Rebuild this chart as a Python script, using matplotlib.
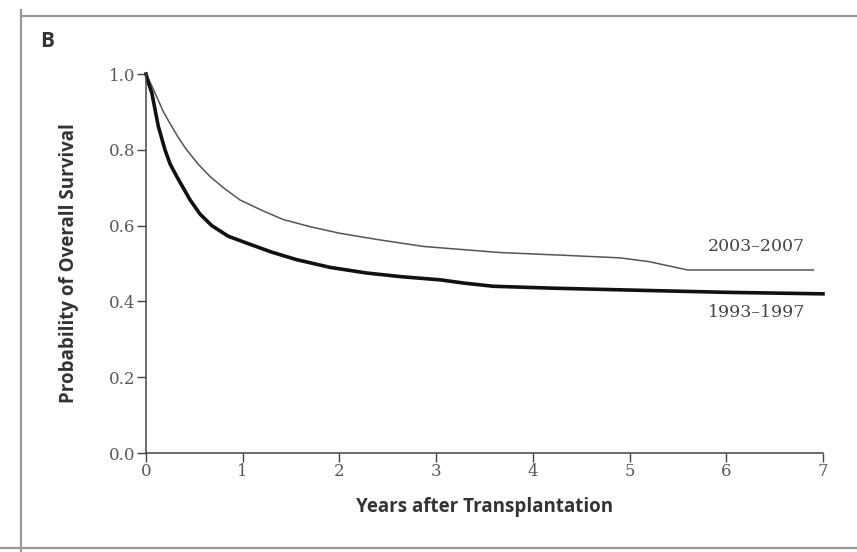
import matplotlib.pyplot as plt
from matplotlib.lines import Line2D

# years after transplantation vs survival
t_2003 = [0, 0.03, 0.093, 0.18, 0.265, 0.34, 0.42, 0.54, 0.66, 0.8, 0.97, 1.2, 1.42,
          1.7, 2.0, 2.4, 2.87, 3.66, 4.3, 4.9, 5.2, 5.6, 6.9]
s_2003 = [1.0, 0.985, 0.95, 0.90, 0.862, 0.83, 0.8, 0.762, 0.73, 0.70, 0.668, 0.64,
          0.616, 0.597, 0.58, 0.563, 0.545, 0.529, 0.522, 0.515, 0.505, 0.483, 0.483]

t_1993 = [0, 0.02, 0.06, 0.127, 0.196, 0.25, 0.317, 0.455, 0.56, 0.68, 0.85, 1.04,
          1.3, 1.56, 1.9, 2.28, 2.65, 3.04, 3.3, 3.59, 4.2, 5.0, 5.5, 6.0, 6.5, 7.0]
s_1993 = [1.0, 0.98, 0.95, 0.862, 0.8, 0.762, 0.73, 0.668, 0.63, 0.6, 0.572, 0.554,
          0.53, 0.51, 0.49, 0.475, 0.465, 0.457, 0.448, 0.44, 0.435, 0.43, 0.427,
          0.424, 0.422, 0.42]

xticks = [0, 1, 2, 3, 4, 5, 6, 7]
yticks = [0.0, 0.2, 0.4, 0.6, 0.8, 1.0]

fig = plt.figure(figsize=(8.57, 5.52), dpi=100)
ax = fig.add_axes([0.1704, 0.1793, 0.7899, 0.6866])

ax.plot(t_2003, s_2003, color='#555555', lw=1.1, clip_on=False)
ax.plot(t_1993, s_1993, color='#111111', lw=2.6, clip_on=False)

ax.set_xlim(0, 7)
ax.set_ylim(0, 1)
ax.set_xticks(xticks)
ax.set_xticklabels([str(x) for x in xticks])
ax.set_yticks(yticks)
ax.set_yticklabels(['%.1f' % y for y in yticks])

for s in ['top', 'right']:
    ax.spines[s].set_visible(False)
for s in ['left', 'bottom']:
    ax.spines[s].set_color('#444444')
    ax.spines[s].set_linewidth(1.1)

ax.tick_params(axis='both', direction='out', length=6.5, width=1, color='#444444',
               labelcolor='#5a5a5a', pad=1)
for lab in ax.get_xticklabels() + ax.get_yticklabels():
    lab.set_fontfamily('DejaVu Serif')
    lab.set_fontsize(12)

ax.set_xlabel('Years after Transplantation', fontfamily='Open Sans', fontweight='bold',
              fontsize=13.5, color='#333333', labelpad=12)
ax.set_ylabel('Probability of Overall Survival', fontfamily='Open Sans', fontweight='bold',
              fontsize=13.5, color='#333333', labelpad=22)

ax.text(6.31, 0.544, '2003\u20132007', ha='center', va='center',
        fontfamily='DejaVu Serif', fontsize=12.5, color='#444444')
ax.text(6.31, 0.37, '1993\u20131997', ha='center', va='center',
        fontfamily='DejaVu Serif', fontsize=12.5, color='#444444')

fig.text(0.047, 0.924, 'B', fontfamily='Open Sans', fontweight='bold', fontsize=15,
         color='#333333', ha='left', va='center')

# panel frame
fig.add_artist(Line2D([0.0245, 1.0], [0.971, 0.971], color='#999999', lw=1.6))
fig.add_artist(Line2D([0.0245, 0.0245], [0.0, 0.982], color='#999999', lw=1.6))
fig.add_artist(Line2D([0.0, 1.0], [0.0072, 0.0072], color='#999999', lw=1.6))

fig.savefig('out.png', dpi=100)
